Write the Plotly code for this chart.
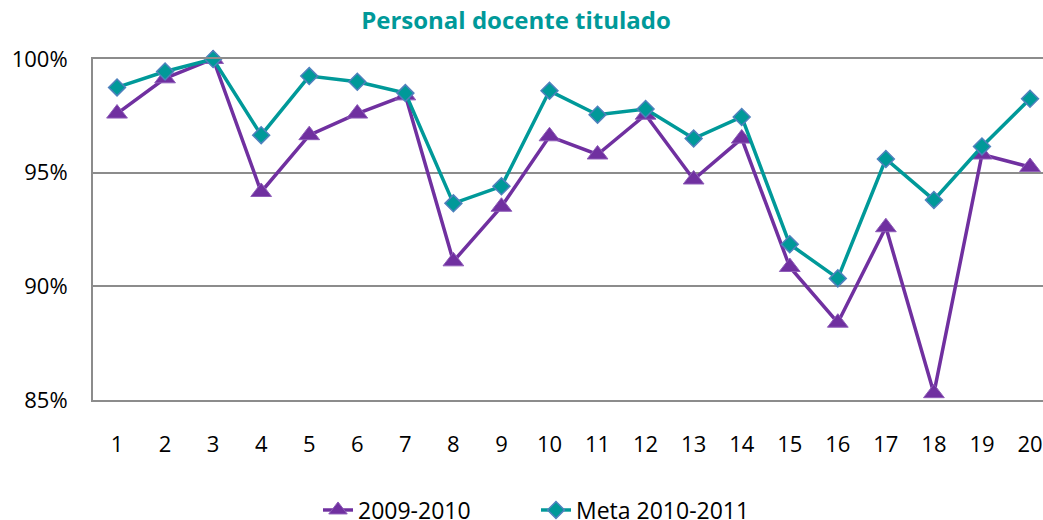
import plotly.graph_objects as go

categories = [str(i) for i in range(1, 21)]
serie_2009_2010 = [97.6, 99.15, 100.0, 94.15, 96.65, 97.6, 98.4, 91.1, 93.5, 96.6,
                   95.8, 97.55, 94.7, 96.5, 90.85, 88.4, 92.6, 85.3, 95.8, 95.25]
meta_2010_2011 = [98.75, 99.45, 100.0, 96.65, 99.25, 99.0, 98.5, 93.65, 94.4, 98.6,
                  97.55, 97.8, 96.5, 97.45, 91.85, 90.35, 95.6, 93.8, 96.15, 98.25]
y_ticks = [85, 90, 95, 100]
y_tick_labels = ["85%", "90%", "95%", "100%"]

x_idx = list(range(1, 21))
FONT = "Open Sans"

fig = go.Figure()
fig.add_trace(go.Scatter(
    x=x_idx, y=serie_2009_2010, name="2009-2010", mode="lines+markers",
    line=dict(color="#7030A0", width=3.5),
    marker=dict(symbol="triangle-up", size=18, color="#7030A0",
                line=dict(color="#8E5CB8", width=1)),
    cliponaxis=False,
))
fig.add_trace(go.Scatter(
    x=x_idx, y=meta_2010_2011, name="Meta 2010-2011", mode="lines+markers",
    line=dict(color="#009999", width=3.5),
    marker=dict(symbol="diamond", size=13, color="#009999",
                line=dict(color="#4F81BD", width=1.5)),
    cliponaxis=False,
))

fig.update_layout(
    width=1043, height=520,
    margin=dict(l=93, r=0, t=59, b=120, autoexpand=False),
    paper_bgcolor="white", plot_bgcolor="white",
    title=dict(text="<b>Personal docente titulado</b>", x=516/1043, xanchor="center",
               y=1 - 21/520, yanchor="middle",
               font=dict(family=FONT, size=24, color="#009999")),
    font=dict(family=FONT, size=22, color="black"),
    showlegend=True,
    legend=dict(orientation="h", xref="container", x=318/1043, xanchor="left",
                yref="paper", y=-(510 - 400) / 341, yanchor="middle",
                font=dict(family=FONT, size=23, color="black"),
                entrywidth=173, entrywidthmode="pixels",
                traceorder="normal", bgcolor="rgba(0,0,0,0)"),
    xaxis=dict(range=[0.5, 20.27], tickmode="array", tickvals=x_idx, ticktext=categories,
               showgrid=False, zeroline=False, showline=True, mirror=True,
               linecolor="#8C8C8C", linewidth=2, ticks="",
               ticklabelstandoff=24,
               tickfont=dict(family=FONT, size=22, color="black")),
    yaxis=dict(range=[85, 100], tickmode="array", tickvals=y_ticks, ticktext=y_tick_labels,
               showgrid=True, gridcolor="#8C8C8C", gridwidth=2,
               zeroline=False, showline=True, linecolor="#8C8C8C", linewidth=2,
               ticks="", ticklabelstandoff=19,
               tickfont=dict(family=FONT, size=22, color="black")),
)

fig.write_html("out.html", config={"displayModeBar": False},
               post_script="document.body.style.margin='0';document.body.style.padding='0';"
                           "document.body.style.overflow='hidden';")
